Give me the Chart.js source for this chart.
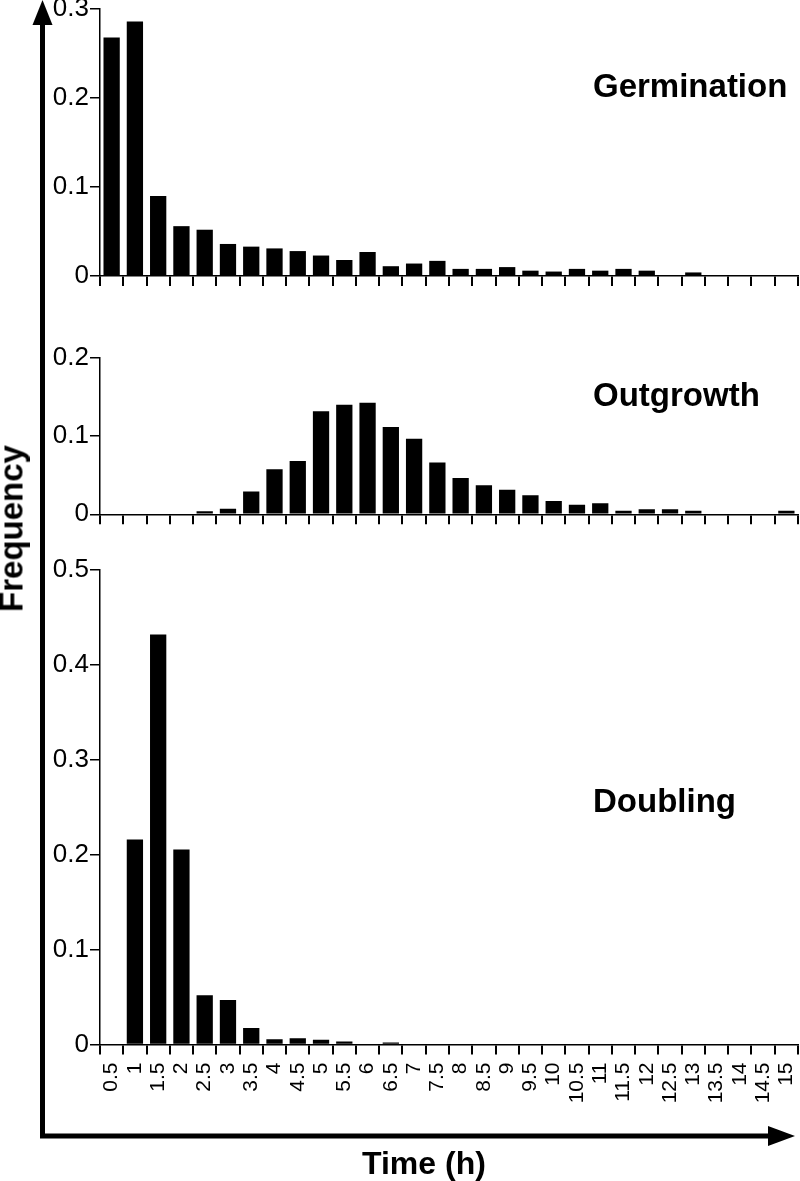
<!DOCTYPE html>
<html>
<head>
<meta charset="utf-8">
<script src="https://cdn.jsdelivr.net/npm/chart.js@4.4.1/dist/chart.umd.min.js"></script>
<style>
  body { margin: 0; background: #fff; width: 800px; height: 1181px; position: relative; overflow: hidden; font-family: "Liberation Sans", Arial, sans-serif; }
  canvas { position: absolute; left: 0; }
  .lbl { position: absolute; font-weight: bold; font-size: 33px; line-height: 33px; color: #000; white-space: nowrap; }
</style>
</head>
<body>
<canvas id="g1" width="800" height="300" style="top:0px"></canvas>
<canvas id="g2" width="800" height="210" style="top:330px"></canvas>
<canvas id="g3" width="800" height="590" style="top:545px"></canvas>
<canvas id="arrows" width="800" height="1181" style="top:0px"></canvas>

<div class="lbl" style="left:593px; top:69px">Germination</div>
<div class="lbl" style="left:593px; top:378px">Outgrowth</div>
<div class="lbl" style="left:593px; top:784px">Doubling</div>
<div class="lbl" style="left:362px; top:1147px; font-size:32px">Time (h)</div>
<div class="lbl" style="left:-89px; top:512px; width:200px; text-align:center; transform:rotate(-90deg)">Frequency</div>

<script>
// categorias (horas)
const tiempos = ['0.5','1','1.5','2','2.5','3','3.5','4','4.5','5','5.5','6','6.5','7','7.5',
                 '8','8.5','9','9.5','10','10.5','11','11.5','12','12.5','13','13.5','14','14.5','15'];

const germinacion = [0.268, 0.286, 0.090, 0.056, 0.052, 0.036, 0.033, 0.031, 0.028, 0.023,
                     0.018, 0.027, 0.011, 0.014, 0.017, 0.008, 0.008, 0.010, 0.006, 0.005,
                     0.008, 0.006, 0.008, 0.006, 0, 0.004, 0, 0, 0, 0];

const crecimiento = [0, 0, 0, 0, 0.004, 0.007, 0.029, 0.0575, 0.068, 0.1315,
                     0.140, 0.1425, 0.1115, 0.0966, 0.066, 0.0464, 0.037, 0.0314, 0.0243, 0.017,
                     0.0123, 0.014, 0.0046, 0.0064, 0.0064, 0.0046, 0, 0, 0, 0.0046];

const duplicacion = [0, 0.216, 0.432, 0.2055, 0.052, 0.047, 0.0175, 0.0056, 0.0066, 0.0049,
                     0.0032, 0, 0.002, 0, 0, 0, 0, 0, 0, 0,
                     0, 0, 0, 0, 0, 0, 0, 0, 0, 0];

const maximos = [0.3, 0.2, 0.5];

Chart.defaults.font.family = '"Liberation Sans", Arial, sans-serif';
Chart.defaults.color = '#000';

function panel(id, datos, maxY, padTop, altoX, conEtiquetas) {
    new Chart(document.getElementById(id), {
        type: 'bar',
        data: {
            labels: tiempos,
            datasets: [{
                data: datos,
                backgroundColor: '#000',
                borderWidth: 0,
                barPercentage: 0.7,
                categoryPercentage: 1
            }]
        },
        options: {
            responsive: false,
            animation: false,
            devicePixelRatio: 1,
            layout: { padding: { top: padTop, right: 2, left: 0, bottom: 0 } },
            plugins: { legend: { display: false }, tooltip: { enabled: false } },
            scales: {
                x: {
                    type: 'category',
                    offset: true,
                    grid: { offset: true, drawOnChartArea: false, tickLength: 10, color: '#000', lineWidth: 2 },
                    border: { color: '#000', width: 1.5 },
                    ticks: {
                        display: conEtiquetas,
                        autoSkip: false,
                        maxRotation: 90,
                        minRotation: 90,
                        padding: 8,
                        font: { size: 21 }
                    },
                    afterFit: s => {
                        s.height = altoX;
                        s.paddingLeft = 0; s.paddingRight = 0;
                    }
                },
                y: {
                    min: 0,
                    max: maxY,
                    grid: { drawOnChartArea: false, tickLength: 10, color: '#000', lineWidth: 1.5 },
                    border: { color: '#000', width: 1.5 },
                    ticks: {
                        stepSize: 0.1,
                        padding: 1,
                        font: { size: 26 },
                        callback: v => v === 0 ? '0' : v.toFixed(1)
                    },
                    afterFit: s => {
                        s.width = 100;
                        s.paddingTop = 0; s.paddingBottom = 0;
                    }
                }
            }
        }
    });
}

panel('g1', germinacion, maximos[0], 9, 24, false);
panel('g2', crecimiento, maximos[1], 27.7, 25.7, false);
panel('g3', duplicacion, maximos[2], 25, 90.5, true);

// flechas de los ejes
const ctx = document.getElementById('arrows').getContext('2d');
ctx.fillStyle = '#000';
ctx.strokeStyle = '#000';
ctx.lineWidth = 5;
ctx.beginPath();
ctx.moveTo(42.5, 1138);
ctx.lineTo(42.5, 20);
ctx.moveTo(40, 1136);
ctx.lineTo(772, 1136);
ctx.stroke();
ctx.beginPath();
ctx.moveTo(32.5, 25);
ctx.lineTo(52.5, 25);
ctx.lineTo(42.5, 0);
ctx.closePath();
ctx.fill();
ctx.beginPath();
ctx.moveTo(768, 1126);
ctx.lineTo(768, 1146);
ctx.lineTo(795, 1136);
ctx.closePath();
ctx.fill();
</script>
</body>
</html>
